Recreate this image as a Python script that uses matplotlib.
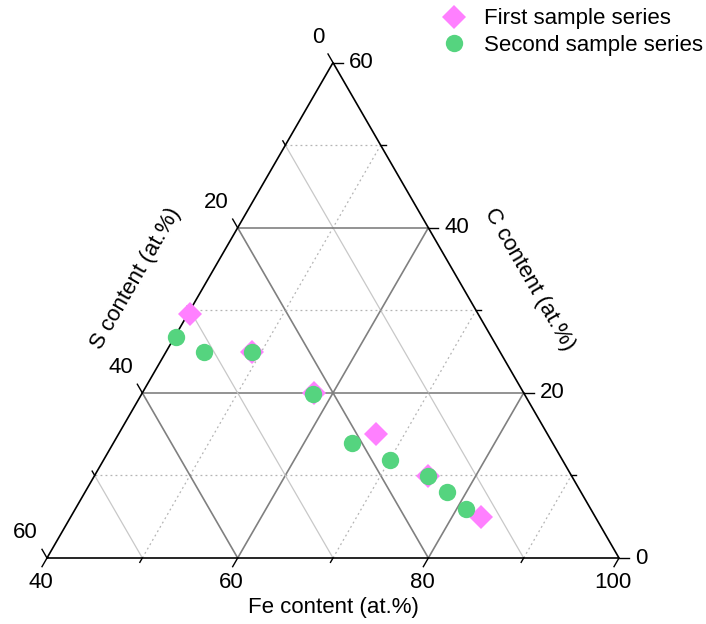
import matplotlib.pyplot as plt
import numpy as np

plt.rcParams['font.family'] = ['Liberation Sans', 'DejaVu Sans']
plt.rcParams['font.size'] = 16

# Ternary data: Fe and C content in at.%, S = 100 - Fe - C
fe_first = [40.2, 49.0, 58.0, 67.0, 75.0, 83.0]
c_first = [29.6, 25.0, 20.0, 15.0, 9.9, 5.0]
fe_second = [40.1, 44.0, 49.0, 58.0, 65.0, 70.0, 75.0, 78.0, 81.0]
c_second = [26.8, 25.0, 25.0, 19.9, 13.9, 11.9, 9.9, 8.0, 5.9]

fe_ticks = [40, 60, 80, 100]
c_ticks = [0, 20, 40, 60]
s_ticks = [0, 20, 40, 60]

FE_MIN = 40.0
SPAN = 60.0
H = np.sqrt(3) / 2


def to_xy(fe, c):
    fe = np.asarray(fe, dtype=float)
    c = np.asarray(c, dtype=float)
    a = (fe - FE_MIN) / SPAN
    cc = c / SPAN
    return a + 0.5 * cc, H * cc


fig = plt.figure(figsize=(7.06, 6.24), dpi=100)
ax = fig.add_axes([0, 0, 1, 1])
ax.set_xlim(-47 / 572, 659 / 572)
ax.set_ylim(-66 / 572, 558 / 572)
ax.set_aspect('equal')
ax.axis('off')

grid_major = dict(color='#808080', lw=1.2, zorder=1)
grid_minor_solid = dict(color='#c8c8c8', lw=0.9, zorder=1)
grid_minor_dot = dict(color='#b4b4b4', lw=0.9, ls=(0, (1.5, 2.5)), zorder=1)

for v in range(10, 60, 10):
    major = v % 20 == 0
    # constant C (horizontal)
    x, y = to_xy([FE_MIN, 100 - v], [v, v])
    ax.plot(x, y, **(grid_major if major else grid_minor_dot))
    # constant S (parallel to right edge)
    x, y = to_xy([100 - v, FE_MIN], [0, 60 - v])
    ax.plot(x, y, **(grid_major if major else grid_minor_solid))
    # constant Fe (parallel to left edge)
    fe = FE_MIN + v
    x, y = to_xy([fe, fe], [0, 100 - fe])
    ax.plot(x, y, **(grid_major if major else grid_minor_dot))

# triangle
x, y = to_xy([40, 100, 40, 40], [0, 0, 60, 0])
ax.plot(x, y, color='black', lw=1.2, zorder=3, solid_joinstyle='miter')

px = 1 / 572
tick_kw = dict(color='black', lw=1.0, zorder=3)
for v in range(0, 61, 10):
    L = (10 if v % 20 == 0 else 5) * px
    # bottom (Fe) ticks, down-left
    bx, by = to_xy(FE_MIN + v, 0)
    ax.plot([bx, bx - 0.5 * L], [by, by - H * L], **tick_kw)
    # right (C) ticks, to the right
    rx, ry = to_xy(100 - v, v)
    ax.plot([rx, rx + L], [ry, ry], **tick_kw)
    # left (S) ticks, up-left
    lx, ly = to_xy(FE_MIN, 60 - v)
    ax.plot([lx, lx - 0.5 * L], [ly, ly + H * L], **tick_kw)

for t in fe_ticks:
    bx, by = to_xy(t, 0)
    ax.annotate(str(t), (bx, by), xytext=(-6, -24), textcoords='offset pixels',
                ha='center', va='center')
for t in c_ticks:
    rx, ry = to_xy(100 - t, t)
    ax.annotate(str(t), (rx, ry), xytext=(16, 0), textcoords='offset pixels',
                ha='left', va='center')
for t in s_ticks:
    lx, ly = to_xy(FE_MIN, 60 - t)
    ax.annotate(str(t), (lx, ly), xytext=(-9, 25), textcoords='offset pixels',
                ha='right', va='center')

# axis titles
mx, my = to_xy(70, 0)
ax.annotate('Fe content (at.%)', (mx, my), xytext=(0, -50), textcoords='offset pixels',
            ha='center', va='center')
mx, my = to_xy(70, 30)
ax.annotate('C content (at.%)', (mx, my), xytext=(53, 31), textcoords='offset pixels',
            ha='center', va='center', rotation=-60, rotation_mode='anchor')
mx, my = to_xy(40, 30)
ax.annotate('S content (at.%)', (mx, my), xytext=(-54, 32), textcoords='offset pixels',
            ha='center', va='center', rotation=60, rotation_mode='anchor')

x1, y1 = to_xy(fe_first, c_first)
x2, y2 = to_xy(fe_second, c_second)
ax.plot(x1, y1, 'D', color='#ff80ff', markersize=12.5, markeredgewidth=0,
        label='First sample series', zorder=4)
ax.plot(x2, y2, 'o', color='#55d47f', markersize=12.5, markeredgewidth=0,
        label='Second sample series', zorder=5)

ax.legend(loc='upper right', bbox_to_anchor=(1.0, 1.0 - 5 / 624),
          bbox_transform=fig.transFigure,
          frameon=False, handletextpad=0.75, borderaxespad=0.0, labelspacing=0.25,
          handlelength=1.2, borderpad=0.15)

fig.savefig('out.png', dpi=100)
